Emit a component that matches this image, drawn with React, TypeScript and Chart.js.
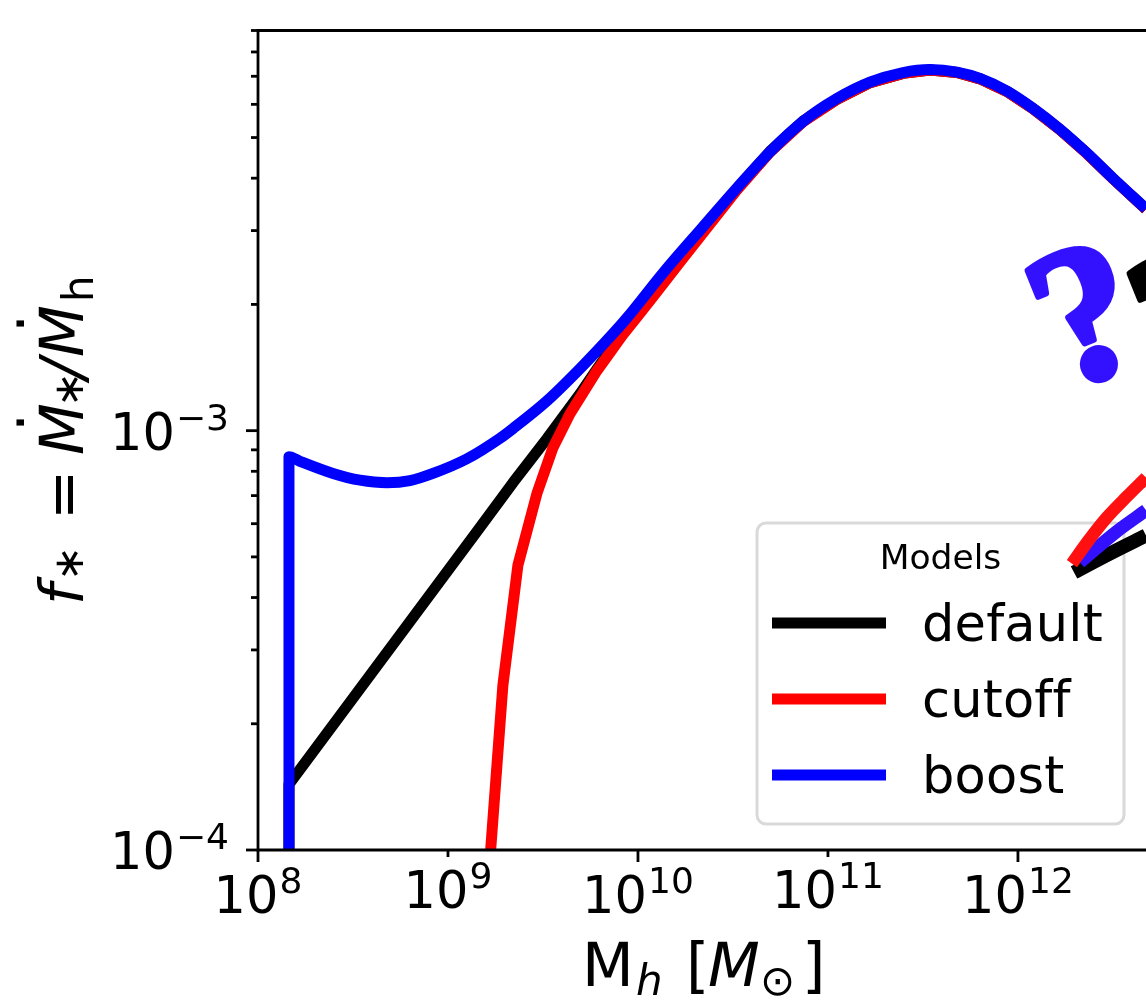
import React, { useEffect, useRef } from "react";
import Chart from "chart.js/auto";

// values, as log10(M_h) and log10(f_*)
const defaultLogM = [8.163, 8.163, 9.168, 9.342, 9.521, 9.695, 9.784, 9.905, 10.011, 10.221, 10.521, 10.695, 10.868, 11.047, 11.221, 11.395, 11.537, 11.679, 11.8, 11.942, 12.079, 12.221, 12.363, 12.5, 12.674];
const defaultLogF = [-4.119, -3.843, -3.231, -3.124, -3.019, -2.912, -2.853, -2.776, -2.713, -2.586, -2.424, -2.334, -2.262, -2.21, -2.17, -2.148, -2.14, -2.146, -2.161, -2.191, -2.232, -2.282, -2.339, -2.399, -2.472];
const cutoffLogM = [9.205, 9.289, 9.368, 9.468, 9.553, 9.642, 9.784, 9.921, 10.0, 10.079, 10.221, 10.521, 10.695, 10.868, 11.047, 11.221, 11.395, 11.537, 11.679, 11.8, 11.942, 12.079, 12.221, 12.363, 12.5, 12.674];
const cutoffLogF = [-4.119, -3.607, -3.321, -3.15, -3.04, -2.96, -2.857, -2.771, -2.726, -2.681, -2.598, -2.426, -2.336, -2.264, -2.21, -2.17, -2.148, -2.14, -2.146, -2.161, -2.191, -2.232, -2.282, -2.339, -2.399, -2.472];
const boostLogM = [8.163, 8.163, 8.221, 8.395, 8.537, 8.679, 8.8, 8.921, 9.1, 9.274, 9.342, 9.521, 9.695, 9.868, 9.942, 10.132, 10.342, 10.521, 10.695, 10.868, 11.047, 11.221, 11.395, 11.537, 11.679, 11.8, 11.942, 12.079, 12.221, 12.363, 12.5, 12.674];
const boostLogF = [-4.119, -3.062, -3.073, -3.102, -3.118, -3.124, -3.119, -3.102, -3.067, -3.018, -2.995, -2.929, -2.852, -2.769, -2.731, -2.624, -2.514, -2.421, -2.335, -2.263, -2.208, -2.169, -2.146, -2.139, -2.145, -2.16, -2.19, -2.231, -2.281, -2.338, -2.398, -2.471];

// the three short hand-added branches at the right edge
const branchBlackLogM = [12.295, 12.484, 12.674];
const branchBlackLogF = [-3.338, -3.293, -3.25];
const branchBlueLogM = [12.326, 12.521, 12.674];
const branchBlueLogF = [-3.314, -3.24, -3.19];
const branchRedLogM = [12.284, 12.368, 12.468, 12.574, 12.674];
const branchRedLogF = [-3.317, -3.264, -3.207, -3.157, -3.112];

const xMajorExponents = [8, 10, 12];
const xMinorExponents = [9, 11];
const yMajorExponents = [-4, -3];
const yMinorValues = [2e-4, 3e-4, 4e-4, 5e-4, 6e-4, 7e-4, 8e-4, 9e-4, 2e-3, 3e-3, 4e-3, 5e-3, 6e-3, 7e-3, 8e-3, 9e-3];

const legendTitle = "Models";
const FONT = '"DejaVu Sans"';

const pts = (m: number[], f: number[]) => m.map((v, i) => ({ x: Math.pow(10, v), y: Math.pow(10, f[i]) }));

function power(ctx: any, x: number, baseline: number, exp: string, align: "center" | "right") {
  const big = `51px ${FONT}`;
  const small = `36px ${FONT}`;
  ctx.textAlign = "left";
  ctx.textBaseline = "alphabetic";
  ctx.font = big;
  const w1 = ctx.measureText("10").width;
  ctx.font = small;
  const w2 = ctx.measureText(exp).width;
  const total = w1 + w2 + 1;
  const left = align === "center" ? x - total / 2 : x - total;
  ctx.font = big;
  ctx.fillText("10", left, baseline);
  ctx.font = small;
  ctx.fillText(exp, left + w1 + 1, baseline - 20);
}

function runs(ctx: any, list: [string, string, number, number][]) {
  // each run: text, font, position along the line, offset off the baseline
  ctx.textAlign = "left";
  ctx.textBaseline = "alphabetic";
  for (const [t, f, p, o] of list) {
    ctx.font = f;
    ctx.fillText(t, p, o);
  }
}

const overlay = {
  id: "overlay",
  beforeDatasetsDraw(chart: any) {
    const ctx = chart.ctx;
    ctx.save();
    // legend frame
    ctx.strokeStyle = "#d9d9d9";
    ctx.lineWidth = 3;
    ctx.beginPath();
    ctx.roundRect(757, 523, 367, 301, 9);
    ctx.fillStyle = "#ffffff";
    ctx.fill();
    ctx.stroke();
    ctx.fillStyle = "#000";
    ctx.textBaseline = "alphabetic";
    ctx.textAlign = "center";
    ctx.font = `34.5px ${FONT}`;
    ctx.fillText(legendTitle, 940.5, 569);
    const ys = [623, 699, 775];
    const labs = [641, 717, 793];
    chart.data.datasets.slice(0, 3).forEach((d: any, i: number) => {
      ctx.strokeStyle = d.borderColor;
      ctx.lineWidth = 11;
      ctx.beginPath();
      ctx.moveTo(772, ys[i]);
      ctx.lineTo(886, ys[i]);
      ctx.stroke();
      ctx.fillStyle = "#000";
      ctx.textAlign = "left";
      ctx.font = `51px ${FONT}`;
      ctx.letterSpacing = "0.2px"; // keeps the ff of "cutoff" as two letters
      ctx.fillText(d.label, 922, labs[i]);
      ctx.letterSpacing = "0px";
    });
    ctx.restore();
  },
  afterDatasetsDraw(chart: any) {
    const ctx = chart.ctx;
    const { left, right, top, bottom } = chart.chartArea;
    const xs = chart.scales.x;
    const ysc = chart.scales.y;
    ctx.save();
    ctx.strokeStyle = "#000";
    ctx.fillStyle = "#000";
    ctx.lineWidth = 2.8;
    ctx.beginPath();
    ctx.moveTo(right, top);
    ctx.lineTo(left, top);
    ctx.lineTo(left, bottom);
    ctx.lineTo(right, bottom);
    ctx.stroke();
    const tick = (x1: number, y1: number, x2: number, y2: number) => {
      ctx.beginPath();
      ctx.moveTo(x1, y1);
      ctx.lineTo(x2, y2);
      ctx.stroke();
    };
    xMajorExponents.forEach((e) => {
      const x = xs.getPixelForValue(Math.pow(10, e));
      tick(x, bottom, x, bottom + 12);
      power(ctx, x, bottom + 63, String(e), "center");
    });
    xMinorExponents.forEach((e) => {
      const x = xs.getPixelForValue(Math.pow(10, e));
      tick(x, bottom, x, bottom + 7);
      power(ctx, x, bottom + 58, String(e), "center");
    });
    yMajorExponents.forEach((e) => {
      const y = ysc.getPixelForValue(Math.pow(10, e));
      tick(left, y, left - 12, y);
      power(ctx, left - 29, y + 19, "\u2212" + Math.abs(e), "right");
    });
    yMinorValues.forEach((v) => {
      const y = ysc.getPixelForValue(v);
      tick(left, y, left - 7, y);
    });

    // x axis title
    const up = `60px ${FONT}`;
    const it = `italic 60px ${FONT}`;
    const sub = `42px ${FONT}`;
    const subIt = `italic 42px ${FONT}`;
    runs(ctx, [
      ["M", up, 582, 986],
      ["h", subIt, 636, 995],
      ["[", up, 686, 986],
      ["M", it, 708, 986],
      ["\u2299", sub, 760, 995],
      ["]", up, 802, 986],
    ]);

    // y axis title
    ctx.save();
    ctx.translate(83, 605);
    ctx.rotate(-Math.PI / 2);
    runs(ctx, [
      ["f", it, 0, 0],
      ["\u2217", sub, 24, 0],
      ["=", up, 85, 0],
      ["M", it, 150, 0],
      [".", up, 173, -59],
      ["\u2217", sub, 198, 0],
      ["/", it, 226, 0],
      ["M", it, 248, 0],
      [".", up, 272, -59],
      ["h", sub, 303, 10],
    ]);
    ctx.restore();

    // question marks
    const mark = (x: number, y: number, color: string) => {
      ctx.save();
      ctx.translate(x, y);
      ctx.rotate((-22 * Math.PI) / 180);
      ctx.fillStyle = color;
      ctx.strokeStyle = color;
      ctx.lineWidth = 6;
      ctx.lineJoin = "round";
      ctx.font = 'bold 198px "Liberation Serif"';
      ctx.textAlign = "center";
      ctx.textBaseline = "alphabetic";
      ctx.fillText("?", 0, 0);
      ctx.strokeText("?", 0, 0);
      ctx.restore();
    };
    mark(1110, 374, "#3311ff");
    mark(1212, 377, "#000000");
    ctx.restore();
  },
};

export default function App() {
  const ref = useRef<HTMLCanvasElement>(null);
  useEffect(() => {
    const line = (label: string, data: any[], color: string, order: number, width = 11, smooth = true) => ({
      label,
      data,
      borderColor: color,
      backgroundColor: color,
      borderWidth: width,
      pointRadius: 0,
      tension: 0,
      cubicInterpolationMode: smooth ? ("monotone" as const) : ("default" as const),
      fill: false,
      order,
      clip: 0,
      borderJoinStyle: "round" as const,
      borderCapStyle: "butt" as const,
    });
    const chart = new Chart(ref.current!, {
      type: "line",
      data: {
        datasets: [
          line("default", pts(defaultLogM, defaultLogF), "#000000", 5, 11, false),
          line("cutoff", pts(cutoffLogM, cutoffLogF), "#ff0000", 4, 11, false),
          line("boost", pts(boostLogM, boostLogF), "#0000ff", 3),
          line("default branch", pts(branchBlackLogM, branchBlackLogF), "#000000", 2, 14),
          line("boost branch", pts(branchBlueLogM, branchBlueLogF), "#3311ff", 1, 13),
          line("cutoff branch", pts(branchRedLogM, branchRedLogF), "#ff1111", 0, 12.5),
        ],
      },
      options: {
        responsive: false,
        animation: false,
        events: [],
        layout: { padding: { top: 30.5, left: 0, right: 0, bottom: 0 } },
        plugins: { legend: { display: false }, tooltip: { enabled: false }, title: { display: false } },
        scales: {
          x: {
            type: "logarithmic",
            min: 1e8,
            max: Math.pow(10, 12.674),
            grid: { display: false },
            border: { display: false },
            ticks: { display: false },
            afterFit: (a: any) => { a.height = 151; },
          },
          y: {
            type: "logarithmic",
            min: 1e-4,
            max: 9e-3,
            grid: { display: false },
            border: { display: false },
            ticks: { display: false },
            afterFit: (a: any) => { a.width = 258; },
          },
        },
      },
      plugins: [overlay],
    });
    return () => chart.destroy();
  }, []);
  return (
    <canvas
      ref={ref}
      width={1146}
      height={1001}
      style={{ position: "absolute", left: 0, top: 0, width: 1146, height: 1001, display: "block" }}
    />
  );
}
